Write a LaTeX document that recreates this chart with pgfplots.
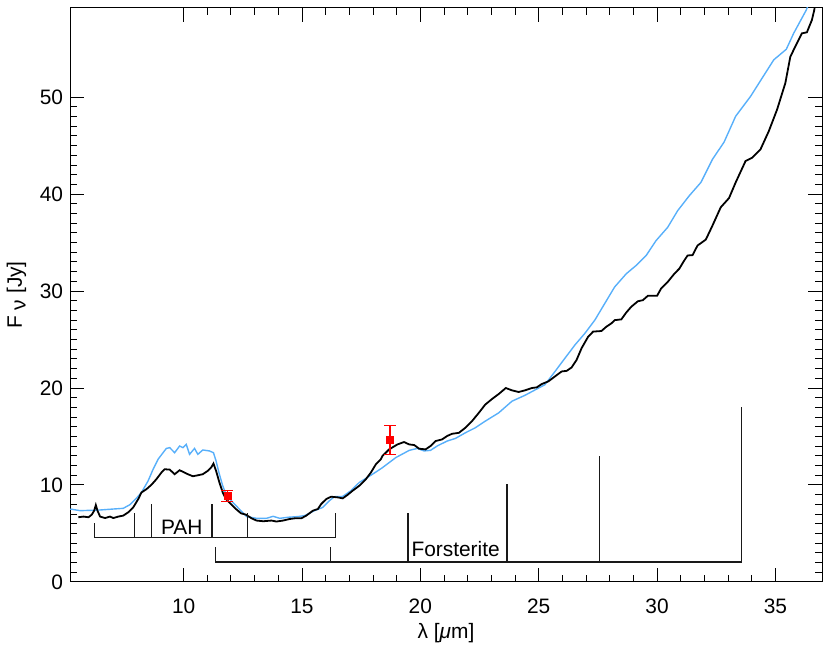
\documentclass[border=0pt]{standalone}
\usepackage{fontspec}
\setmainfont{Liberation Sans}
\usepackage{pgfplots}
\pgfplotsset{compat=1.18}
\definecolor{skyb}{RGB}{87,175,250}
\begin{document}
\begin{tikzpicture}
\begin{axis}[
  scale only axis,
  width=378pt, height=288.5pt,
  xmin=5.2, xmax=36.97, ymin=0, ymax=59.2,
  xtick={10,15,20,25,30,35}, minor x tick num=4,
  ytick={0,10,20,30,40,50}, minor y tick num=9,
  tick align=inside, tick pos=both,
  major tick length=7pt, minor tick length=3.5pt,
  every tick/.style={black, line width=0.5pt},
  axis line style={line width=0.5pt},
  /pgf/number format/assume math mode=true,
  tick label style={font=\fontsize{10.5}{12}\selectfont},
  xticklabel style={yshift=-5pt},
  xlabel={λ [\textit{μ}m]},
  ylabel={F\raisebox{-0.35ex}{ ν} [Jy]},
  label style={font=\fontsize{10.5}{12}\selectfont},
  xlabel style={yshift=2pt},
]
% blue model spectrum
\addplot[skyb, line width=0.7pt] coordinates {
(5.21,7.52)(5.63,7.35)(6.47,7.42)(7.03,7.52)(7.45,7.59)(7.73,7.97)(8.01,8.65)(8.22,9.23)(8.50,10.43)(8.71,11.62)(8.92,12.65)(9.13,13.33)(9.27,13.77)(9.41,13.85)(9.62,13.33)(9.83,14.02)(9.97,13.85)(10.11,14.18)(10.25,13.16)(10.46,13.77)(10.60,13.16)(10.81,13.61)(11.09,13.51)(11.26,13.33)(11.37,12.48)(11.51,11.11)(11.65,9.92)(11.79,9.06)(12.07,8.21)(12.35,7.52)(12.66,6.74)(13.08,6.56)(13.50,6.56)(13.78,6.77)(14.06,6.56)(14.41,6.67)(14.83,6.74)(15.11,6.84)(15.53,7.35)(15.88,7.69)(16.16,8.38)(16.37,8.79)(16.72,8.82)(17.07,9.41)(17.42,10.26)(17.98,11.11)(18.40,11.79)(18.96,12.82)(19.53,13.57)(19.87,13.77)(20.16,13.51)(20.43,13.57)(20.71,14.02)(21.13,14.53)(21.48,14.80)(21.90,15.38)(22.32,15.90)(22.74,16.58)(23.31,17.44)(23.87,18.64)(24.42,19.25)(24.92,19.90)(25.26,20.34)(25.69,21.71)(26.11,23.08)(26.53,24.44)(26.95,25.64)(27.37,27.00)(27.79,28.72)(28.21,30.43)(28.70,31.79)(29.12,32.65)(29.54,33.67)(29.96,35.21)(30.45,36.58)(30.87,38.29)(31.36,39.83)(31.85,41.20)(32.34,43.59)(32.83,45.36)(33.32,48.03)(33.95,50.08)(34.44,51.97)(34.93,53.85)(35.46,54.94)(35.77,56.58)(36.30,58.97)(36.47,60.00)
};
% black observed spectrum
\addplot[black, line width=0.9pt] coordinates {
(5.55,6.67)(5.77,6.74)(5.98,6.67)(6.12,6.94)(6.22,7.35)(6.29,7.93)(6.36,7.35)(6.47,6.74)(6.68,6.59)(6.89,6.74)(7.03,6.59)(7.24,6.74)(7.45,6.84)(7.66,7.18)(7.87,7.69)(8.08,8.54)(8.22,9.23)(8.43,9.57)(8.64,10.02)(8.85,10.60)(9.06,11.28)(9.20,11.62)(9.41,11.59)(9.62,11.11)(9.83,11.52)(10.04,11.28)(10.18,11.11)(10.39,10.90)(10.60,11.00)(10.81,11.11)(11.02,11.46)(11.16,11.79)(11.26,12.21)(11.37,11.46)(11.51,10.26)(11.65,9.23)(11.79,8.54)(12.00,8.03)(12.21,7.52)(12.42,7.08)(12.63,6.94)(12.87,6.56)(13.08,6.33)(13.36,6.26)(13.71,6.33)(13.92,6.23)(14.20,6.33)(14.48,6.49)(14.69,6.56)(14.97,6.56)(15.18,6.84)(15.46,7.35)(15.67,7.52)(15.81,8.03)(16.02,8.54)(16.23,8.79)(16.51,8.72)(16.72,8.62)(16.93,8.99)(17.14,9.41)(17.42,9.92)(17.70,10.60)(17.91,11.28)(18.12,12.13)(18.33,12.65)(18.40,12.99)(18.68,13.67)(19.03,14.18)(19.31,14.43)(19.53,14.18)(19.74,14.12)(19.95,13.74)(20.22,13.67)(20.43,14.02)(20.64,14.53)(20.92,14.70)(21.13,15.05)(21.34,15.28)(21.63,15.38)(21.90,15.90)(22.18,16.58)(22.47,17.44)(22.74,18.29)(23.03,18.87)(23.31,19.38)(23.61,20.00)(23.87,19.76)(24.15,19.59)(24.42,19.76)(24.71,20.00)(24.92,20.07)(25.13,20.41)(25.41,20.69)(25.69,21.20)(25.97,21.71)(26.18,21.77)(26.39,22.12)(26.60,22.90)(26.81,24.10)(27.09,25.30)(27.30,25.82)(27.65,25.88)(27.86,26.33)(28.07,26.67)(28.21,27.00)(28.49,27.08)(28.70,27.79)(28.91,28.38)(29.19,28.95)(29.40,29.06)(29.61,29.51)(30.00,29.51)(30.17,30.26)(30.45,30.94)(30.73,31.79)(30.94,32.31)(31.15,33.16)(31.29,33.67)(31.50,33.71)(31.71,34.70)(31.85,34.94)(32.06,35.31)(32.34,36.75)(32.69,38.64)(33.04,39.59)(33.32,41.20)(33.74,43.42)(34.02,43.76)(34.37,44.62)(34.72,46.49)(35.07,48.72)(35.42,51.46)(35.63,54.18)(35.91,55.56)(36.12,56.58)(36.33,56.69)(36.54,57.95)(36.64,58.97)(36.70,60.00)
};
% photometry
\addplot[red, only marks, mark=square*, mark size=1.75pt,
  error bars/.cd, y dir=both, y explicit,
  error bar style={red, line width=0.6pt},
  error mark options={rotate=90, red, mark size=3pt, line width=0.6pt}]
  coordinates {(11.85,8.87) +- (0,0.6) (18.72,14.67) +- (0,1.5)};
% PAH feature markers
\addplot[black!90, line width=0.6pt] coordinates {(6.22,6.05)(6.22,4.55)(16.4,4.55)(16.4,7.08)};
\addplot[black!90, line width=0.6pt] coordinates {(7.91,4.55)(7.91,7.08)};
\addplot[black!90, line width=0.6pt] coordinates {(8.63,4.55)(8.63,8.03)};
\addplot[black!90, line width=0.6pt] coordinates {(11.2,4.55)(11.2,8.0)};
\addplot[black!90, line width=0.6pt] coordinates {(12.7,4.55)(12.7,7.08)};
% Forsterite feature markers
\addplot[black!90, line width=0.6pt] coordinates {(11.33,3.6)(11.33,2.05)(33.57,2.05)(33.57,18.05)};
\addplot[black!90, line width=0.6pt] coordinates {(16.2,2.05)(16.2,3.6)};
\addplot[black!90, line width=0.6pt] coordinates {(19.48,2.05)(19.48,7.08)};
\addplot[black!90, line width=0.6pt] coordinates {(23.66,2.05)(23.66,10.05)};
\addplot[black!90, line width=0.6pt] coordinates {(27.56,2.05)(27.56,13.0)};
\node[font=\fontsize{10.5}{12}\selectfont] at (axis cs:9.92,5.64) {PAH};
\node[font=\fontsize{10.5}{12}\selectfont] at (axis cs:21.49,3.38) {Forsterite};
\end{axis}
\path (current axis.north east) ++(4pt,4pt);
\end{tikzpicture}
\end{document}
